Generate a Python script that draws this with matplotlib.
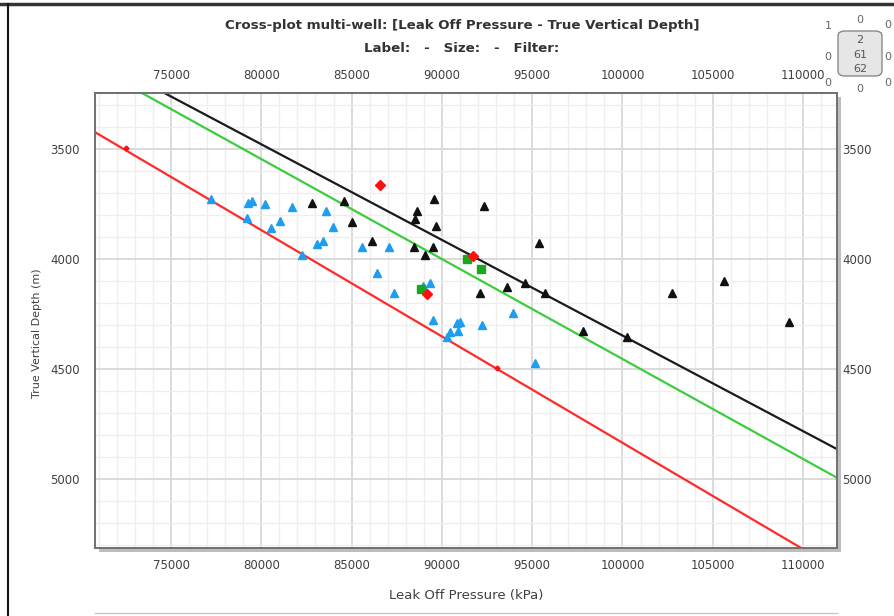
import numpy as np
import matplotlib
matplotlib.use("Agg")
import matplotlib.pyplot as plt
from matplotlib.lines import Line2D
from matplotlib.patches import Rectangle, FancyBboxPatch
import matplotlib.transforms as mtransforms

# ---------------- data ----------------
blue_lop = [77200, 79280, 79500, 79190, 80200, 81030, 80540, 81680, 82240, 83570,
            83990, 83400, 83070, 85560, 87050, 86390, 87350, 88940, 89340, 89520,
            90450, 90820, 91000, 90910, 90270, 92200, 93950, 95150]
blue_tvd = [3729, 3747, 3735, 3815, 3750, 3827, 3860, 3762, 3982, 3782,
            3853, 3917, 3932, 3947, 3945, 4062, 4156, 4123, 4110, 4277,
            4330, 4292, 4285, 4326, 4356, 4300, 4247, 4474]

black_lop = [82810, 84580, 85010, 86130, 89560, 88640, 88510, 89660, 88460, 89520,
             89060, 92350, 92110, 93590, 94600, 95710, 95390, 97800, 100230, 102760,
             105640, 109220]
black_tvd = [3745, 3734, 3830, 3916, 3729, 3780, 3820, 3850, 3944, 3947,
             3982, 3759, 4156, 4126, 4110, 4153, 3929, 4326, 4353, 4153,
             4099, 4285]

red_lop = [86570, 91740, 89190]
red_tvd = [3664, 3986, 4159]

green_lop = [91370, 92150, 88840]
green_tvd = [4001, 4044, 4138]

small_red_lop = [72510, 93030]
small_red_tvd = [3495, 4497]

# trend lines: LOP = intercept + gradient * TVD
line_names = ["black", "green", "red"]
line_intercepts = [0, 2000, 0]
line_gradients = [23.0, 22.0, 20.68]
line_colors = ["#1a1a1a", "#3ccc3c", "#ff2a2a"]

x_ticks = [75000, 80000, 85000, 90000, 95000, 100000, 105000, 110000]
y_ticks = [3500, 4000, 4500, 5000]

title = "Cross-plot multi-well: [Leak Off Pressure - True Vertical Depth]"
subtitle = "Label:   -   Size:   -   Filter:"
xlabel = "Leak Off Pressure (kPa)"
ylabel = "True Vertical Depth (m)"

# ---------------- figure ----------------
W, H = 894, 616
fig = plt.figure(figsize=(W / 100, H / 100), dpi=100)
fig.patch.set_facecolor("white")
plt.rcParams['font.family'] = ['DejaVu Sans']

L, R, T, B = 95, 837, 93, 548
ax = fig.add_axes([L / W, 1 - B / H, (R - L) / W, (B - T) / H])

# shadow
fig.add_artist(Rectangle(((L + 4) / W, 1 - (B + 4) / H), (R - L) / W, (B - T) / H,
                         transform=fig.transFigure, facecolor="#bdbdbd",
                         edgecolor="none", zorder=0))
ax.set_zorder(1)
ax.set_facecolor("white")

xmin, xmax = 70790, 111880
ymin, ymax = 3245, 5314
ax.set_xlim(xmin, xmax)
ax.set_ylim(ymax, ymin)

ax.set_xticks(x_ticks)
ax.set_yticks(y_ticks)
ax.set_xticks(np.arange(71000, 112000, 1000), minor=True)
ax.set_yticks(np.arange(3300, 5400, 100), minor=True)
ax.grid(which="major", color="#d8d8d8", linewidth=1.3, zorder=0)
ax.grid(which="minor", color="#eeeeee", linewidth=0.9, zorder=0)
ax.set_axisbelow(True)

ax.tick_params(which="both", length=0)
ax.tick_params(axis="x", which="major", top=True, labeltop=True, bottom=True,
               labelbottom=True, labelsize=8.5, labelcolor="#404040", pad=8)
ax.tick_params(axis="y", which="major", left=True, labelleft=True, right=False,
               labelright=False, labelsize=8.5, labelcolor="#404040", pad=11)

# right-side y labels, placed close to the frame
rtrans = mtransforms.blended_transform_factory(ax.transAxes, ax.transData) + \
    mtransforms.ScaledTranslation(5 / 100, 0, fig.dpi_scale_trans)
for v in y_ticks:
    ax.text(1.0, v, f"{v}", transform=rtrans, ha="left", va="center_baseline",
            fontsize=8.5, color="#404040", clip_on=False)

for sp in ax.spines.values():
    sp.set_color("#707070")
    sp.set_linewidth(1.4)

# trend lines
tvd_line = np.linspace(3000, 5600, 50)
for inter, grad, col in zip(line_intercepts, line_gradients, line_colors):
    ax.plot(inter + grad * tvd_line, tvd_line, color=col, linewidth=1.6, zorder=2)

# points
ax.plot(blue_lop, blue_tvd, linestyle="none", marker="^", markersize=6,
        color="#1e9ef0", zorder=3)
ax.plot(black_lop, black_tvd, linestyle="none", marker="^", markersize=6,
        color="#111111", zorder=3)
ax.plot(green_lop, green_tvd, linestyle="none", marker="s", markersize=6,
        color="#1aa81a", zorder=3)
ax.plot(red_lop, red_tvd, linestyle="none", marker="D", markersize=5.5,
        color="#ff1010", zorder=4)
ax.plot(small_red_lop, small_red_tvd, linestyle="none", marker="D", markersize=2.5,
        color="#ff1010", zorder=4)

ax.set_xlabel(xlabel, fontsize=9.5, color="#404040", labelpad=12)
ax.set_ylabel(ylabel, fontsize=8, color="#404040")
ax.yaxis.set_label_coords(-(L - 42) / (R - L), 1 - (333 - T) / (B - T))

# titles
cx = (L + R) / 2 / W - 4 / W
fig.text(cx, 1 - 26 / H, title, ha="center", va="center", fontsize=9.6,
         fontweight="bold", color="#333333")
fig.text(cx, 1 - 48 / H, subtitle, ha="center", va="center", fontsize=9.6,
         fontweight="bold", color="#333333")

# top-right widget
box = FancyBboxPatch((838 / W, 1 - 76 / H), 44 / W, 45 / H,
                     boxstyle="round,pad=0,rounding_size=0.008",
                     transform=fig.transFigure, facecolor="#e6e6e6",
                     edgecolor="#8a8a8a", linewidth=1.0, zorder=2)
fig.add_artist(box)
for txt, yy in zip(["2", "61", "62"], [40, 55, 69]):
    fig.text(860 / W, 1 - yy / H, txt, ha="center", va="center", fontsize=8,
             color="#555555", zorder=3)
for txt, xx, yy in [("1", 828, 26), ("0", 860, 20), ("0", 888, 25),
                    ("0", 828, 57), ("0", 888, 57), ("0", 828, 83),
                    ("0", 860, 89), ("0", 888, 83)]:
    fig.text(xx / W, 1 - yy / H, txt, ha="center", va="center", fontsize=8,
             color="#666666")

# frame lines
fig.add_artist(Line2D([0, 1], [1 - 4 / H, 1 - 4 / H], transform=fig.transFigure,
                      color="#333333", linewidth=2.5))
fig.add_artist(Line2D([8 / W, 8 / W], [0, 1 - 4 / H], transform=fig.transFigure,
                      color="#111111", linewidth=1.5))
fig.add_artist(Line2D([L / W, R / W], [1 - 613 / H, 1 - 613 / H],
                      transform=fig.transFigure, color="#c8c8c8", linewidth=1.0))

fig.savefig("out.png", dpi=100)
